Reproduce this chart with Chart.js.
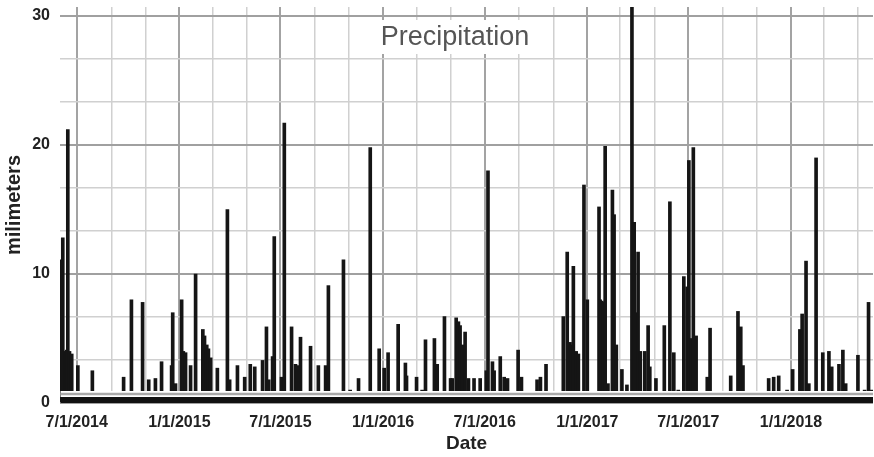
<!DOCTYPE html>
<html>
<head>
<meta charset="utf-8">
<title>Precipitation</title>
<script src="https://cdn.jsdelivr.net/npm/chart.js@4/dist/chart.umd.min.js"></script>
<style>
  html, body { margin: 0; padding: 0; background: #fff; }
</style>
</head>
<body>
<canvas id="rain-chart" width="874" height="457"></canvas>
<script>
// daily rain events (mm)
var rainDates = [
  '2014-06-02','2014-06-06','2014-06-10','2014-06-13','2014-06-15','2014-06-18','2014-06-22','2014-07-03','2014-07-29',
  '2014-09-23','2014-10-07','2014-10-27','2014-11-07','2014-11-19','2014-11-30','2014-12-18','2014-12-20','2014-12-25',
  '2015-01-05','2015-01-08','2015-01-12','2015-01-21','2015-01-30','2015-02-12','2015-02-15','2015-02-19','2015-02-22',
  '2015-02-26','2015-03-10','2015-03-28','2015-04-01','2015-04-15','2015-04-28','2015-05-08','2015-05-16','2015-05-30',
  '2015-06-06','2015-06-10','2015-06-17','2015-06-20','2015-07-03','2015-07-08','2015-07-21','2015-07-28','2015-08-01',
  '2015-08-06','2015-08-24','2015-09-07','2015-09-20','2015-09-25','2015-10-22','2015-11-03','2015-11-18','2015-12-07',
  '2015-12-09','2015-12-25','2016-01-03','2016-01-10','2016-01-28','2016-02-10','2016-02-12','2016-03-01','2016-03-11',
  '2016-03-17','2016-04-02','2016-04-07','2016-04-20','2016-05-01','2016-05-04','2016-05-11','2016-05-15','2016-05-18',
  '2016-05-22','2016-05-27','2016-06-02','2016-06-12','2016-06-23','2016-07-04','2016-07-07','2016-07-15','2016-07-18',
  '2016-07-29','2016-08-05','2016-08-11','2016-08-30','2016-09-05','2016-10-03','2016-10-09','2016-10-19','2016-11-19',
  '2016-11-26','2016-12-01','2016-12-03','2016-12-07','2016-12-12','2016-12-16','2016-12-26','2017-01-01','2017-01-22',
  '2017-01-24','2017-01-27','2017-01-30','2017-02-02','2017-02-07','2017-02-15','2017-02-18','2017-02-22','2017-03-04',
  '2017-03-13','2017-03-22','2017-03-26','2017-03-29','2017-04-02','2017-04-06','2017-04-14','2017-04-20','2017-04-23',
  '2017-05-04','2017-05-19','2017-05-29','2017-06-05','2017-06-13','2017-06-23','2017-06-29','2017-07-02','2017-07-06',
  '2017-07-10','2017-07-15','2017-08-04','2017-08-09','2017-09-15','2017-09-28','2017-10-03','2017-10-07','2017-11-22',
  '2017-12-01','2017-12-10','2017-12-25','2018-01-04','2018-01-17','2018-01-21','2018-01-28','2018-02-02','2018-02-15',
  '2018-02-27','2018-03-10','2018-03-15','2018-03-28','2018-04-04','2018-04-09','2018-04-18','2018-05-01','2018-05-13',
  '2018-05-20','2018-05-26'
];
var rainMm = [
  11.1, 12.8, 4.0, 4.1, 21.2, 4.0, 3.8, 2.9, 2.5,
  2.0, 8.0, 7.8, 1.8, 1.9, 3.2, 2.9, 7.0, 1.5,
  8.0, 4.0, 3.9, 2.9, 10.0, 5.7, 5.2, 4.5, 4.2,
  3.5, 2.7, 15.0, 1.8, 2.9, 2.0, 3.0, 2.8, 3.3,
  5.9, 1.8, 3.6, 12.9, 2.0, 21.7, 5.9, 3.0, 2.9,
  5.1, 4.4, 2.9, 2.9, 9.1, 11.1, 1.0, 1.9, 0.8,
  19.8, 4.2, 2.7, 3.9, 6.1, 3.1, 2.1, 2.0, 1.0,
  4.9, 5.0, 3.0, 6.7, 1.9, 1.9, 6.6, 6.3, 6.0,
  4.5, 5.5, 1.9, 1.9, 1.9, 2.5, 18.0, 3.2, 2.5,
  3.6, 2.0, 1.9, 4.1, 2.0, 1.8, 2.0, 3.0, 6.7,
  11.7, 4.7, 4.5, 10.6, 4.0, 3.8, 16.9, 8.0, 15.2,
  8.0, 7.9, 7.8, 19.9, 1.5, 16.5, 14.6, 4.5, 2.6,
  1.4, 31.0, 14.0, 7.0, 11.7, 4.0, 4.0, 6.0, 2.8,
  1.9, 6.0, 15.6, 3.9, 1.0, 9.8, 9.0, 18.8, 5.0,
  19.8, 5.2, 2.0, 5.8, 2.1, 7.1, 5.9, 2.9, 1.9,
  2.0, 2.1, 1.0, 2.6, 5.7, 6.9, 11.0, 1.5, 19.0,
  3.9, 4.0, 2.8, 3.0, 4.1, 1.5, 0.8, 3.7, 1.0,
  7.8, 1.0
];

// trace amounts along the whole record, and the reference level line
var baseDates = ['2014-06-02', '2018-05-28'];
var traceMm = [0.47, 0.47];
var levelMm = [0.7, 0.7];

var tickDates = [
  '2014-07-01','2014-09-01','2014-11-01','2015-01-01','2015-03-01','2015-05-01','2015-07-01','2015-09-01',
  '2015-11-01','2016-01-01','2016-03-01','2016-05-01','2016-07-01','2016-09-01','2016-11-01','2017-01-01',
  '2017-03-01','2017-05-01','2017-07-01','2017-09-01','2017-11-01','2018-01-01','2018-03-01','2018-05-01'
];
var tickLabels = [
  '7/1/2014','','','1/1/2015','','','7/1/2015','',
  '','1/1/2016','','','7/1/2016','','','1/1/2017',
  '','','7/1/2017','','','1/1/2018','',''
];
var yTicks = [0, 10/3, 20/3, 10, 40/3, 50/3, 20, 70/3, 80/3, 30];
var yTickLabels = ['0','','','10','','','20','','','30'];

function dayNum(s) {
  var p = s.split('-');
  return Date.UTC(+p[0], +p[1] - 1, +p[2]) / 864e5;
}
function pairs(dates, vals) {
  return dates.map(function(d, i) { return { x: dayNum(d), y: vals[i] }; });
}

var FONT = "'Liberation Sans', Arial, sans-serif";

// chart title sits inside the plot on a white box
var titleBox = {
  id: 'titleBox',
  afterDraw: function(chart) {
    var ctx = chart.ctx;
    ctx.save();
    ctx.fillStyle = '#fff';
    ctx.fillRect(372, 20, 166, 34);
    ctx.fillStyle = '#555';
    ctx.font = '27px ' + FONT;
    ctx.textAlign = 'center';
    ctx.textBaseline = 'alphabetic';
    ctx.fillText('Precipitation', 455, 45);
    ctx.restore();
  }
};

var ctx = document.getElementById('rain-chart');
var rainChart = new Chart(ctx, {
  type: 'bar',
  data: {
    datasets: [
      {
        label: 'Level',
        type: 'line',
        data: pairs(baseDates, levelMm),
        borderColor: '#a9a9a9',
        borderWidth: 2.5,
        pointRadius: 0,
        fill: false,
        order: 0
      },
      {
        label: 'Level halo',
        type: 'line',
        data: pairs(baseDates, levelMm),
        borderColor: '#ffffff',
        borderWidth: 6,
        pointRadius: 0,
        fill: false,
        order: 1
      },
      {
        label: 'Trace',
        type: 'line',
        data: pairs(baseDates, traceMm),
        borderWidth: 0,
        pointRadius: 0,
        fill: 'origin',
        backgroundColor: '#111',
        order: 2
      },
      {
        label: 'Precipitation',
        data: pairs(rainDates, rainMm),
        backgroundColor: '#151515',
        barThickness: 3,
        order: 3
      }
    ]
  },
  options: {
    responsive: false,
    animation: false,
    layout: { padding: { top: 7, right: 1, left: 0, bottom: 0 } },
    plugins: {
      legend: { display: false },
      tooltip: { enabled: false }
    },
    scales: {
      x: {
        type: 'linear',
        min: dayNum('2014-06-01'),
        max: dayNum('2018-05-28'),
        offset: false,
        afterBuildTicks: function(s) {
          s.ticks = tickDates.map(function(d) { return { value: dayNum(d) }; });
        },
        afterFit: function(s) {
          s.height = 54;
          s.paddingLeft = 0;
          s.paddingRight = 0;
        },
        grid: {
          offset: false,
          drawTicks: false,
          color: function(c) { return tickLabels[c.index] ? '#a3a3a3' : '#d0d0d0'; },
          lineWidth: function(c) { return tickLabels[c.index] ? 2 : 1.5; }
        },
        border: { display: false },
        ticks: {
          autoSkip: false,
          maxRotation: 0,
          padding: 10,
          color: '#222',
          font: { family: FONT, size: 16, weight: 'bold' },
          callback: function(v, i) { return tickLabels[i]; }
        },
        title: {
          display: true,
          text: 'Date',
          color: '#222',
          font: { family: FONT, size: 19, weight: 'bold' },
          padding: { top: 0, bottom: 2 }
        }
      },
      y: {
        min: 0,
        max: 30.7,
        afterBuildTicks: function(s) {
          s.ticks = yTicks.map(function(v) { return { value: v }; });
        },
        afterFit: function(s) {
          s.width = 60;
          s.paddingTop = 0;
          s.paddingBottom = 0;
        },
        grid: {
          drawTicks: false,
          color: function(c) { return yTickLabels[c.index] ? '#a0a0a0' : '#d0d0d0'; },
          lineWidth: function(c) { return yTickLabels[c.index] ? 2 : 1.5; }
        },
        border: { display: false },
        ticks: {
          padding: 10,
          color: '#222',
          font: { family: FONT, size: 16, weight: 'bold' },
          callback: function(v, i) { return yTickLabels[i]; }
        },
        title: {
          display: true,
          text: 'milimeters',
          color: '#222',
          font: { family: FONT, size: 20, weight: 'bold' },
          padding: { top: 2, bottom: 0 }
        }
      }
    }
  },
  plugins: [titleBox]
});
</script>
</body>
</html>
